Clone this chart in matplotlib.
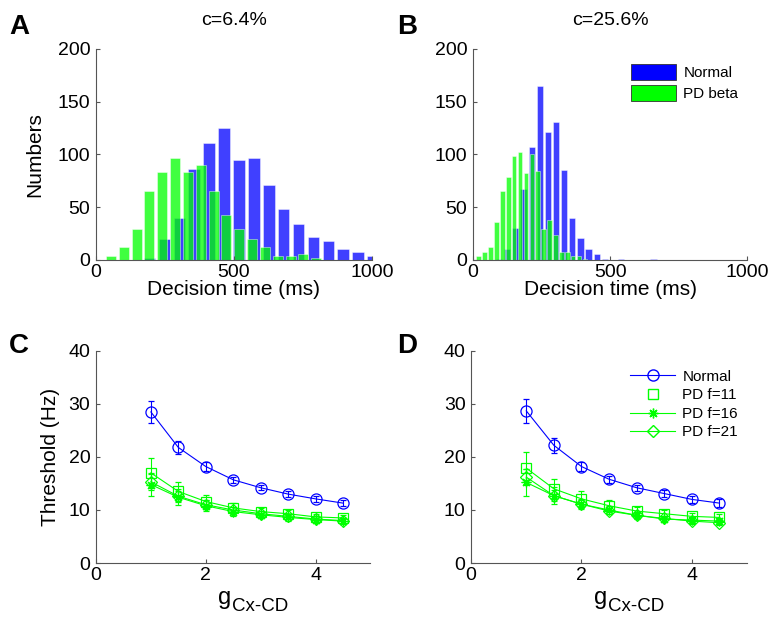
import matplotlib.pyplot as plt
from matplotlib.patches import Patch
from matplotlib.lines import Line2D
import numpy as np

plt.rcParams['font.family'] = ['Liberation Sans', 'DejaVu Sans']
plt.rcParams['font.size'] = 12

BLUE = '#0000ff'
GREEN = '#00ff00'
ASTERISK = (8, 2, 0)   # matlab-style '*' marker

# --- decision time histograms (bin centres in ms, counts) ---
a_normal_bins = [194, 248, 302, 356, 410, 464, 518, 572, 626, 680, 734, 788, 842, 896, 950, 1004]
a_normal_counts = [2, 20, 40, 86, 111, 125, 95, 97, 71, 48, 34, 22, 18, 10, 8, 4]
a_pd_bins = [54, 100.5, 147, 193.5, 240, 286.5, 333, 379.5, 426, 472.5, 519, 565.5, 612, 658.5, 705, 751.5, 798]
a_pd_counts = [4, 12, 29, 65, 83, 97, 83, 90, 65, 43, 29, 20, 12, 4, 4, 6, 2]

b_normal_bins = [95.4, 125, 154.6, 184.2, 213.8, 243.4, 273, 302.6, 332.2, 361.8, 391.4, 421,
                 450.6, 480.2, 509.8, 539.4, 569, 598.6, 628.2, 657.8]
b_normal_counts = [1, 10, 30, 67, 107, 165, 121, 131, 85, 40, 21, 10, 6, 1, 0, 1, 0, 0, 0, 1]
b_pd_bins = [21, 42.5, 64, 85.5, 107, 128.5, 150, 171.5, 193, 214.5, 236, 257.5, 279, 300.5,
             322, 343.5, 365, 386.5, 408]
b_pd_counts = [4, 8, 12, 36, 65, 79, 99, 102, 82, 100, 84, 29, 38, 24, 8, 8, 4, 4, 1]

# --- thresholds vs g_Cx-CD ---
g = [1, 1.5, 2, 2.5, 3, 3.5, 4, 4.5]

c_normal = [28.5, 21.8, 18.2, 15.7, 14.2, 13.0, 12.1, 11.3]
c_normal_err = [2.0, 1.3, 0.8, 0.6, 0.5, 0.5, 0.6, 0.6]
c_f11 = [17.0, 13.5, 11.6, 10.4, 9.7, 9.3, 8.7, 8.5]
c_f11_err = [2.8, 1.8, 1.2, 0.9, 0.7, 0.7, 0.6, 0.6]
c_f16 = [14.8, 12.4, 10.8, 9.7, 9.1, 8.6, 8.2, 7.9]
c_f16_err = [2.2, 1.5, 1.0, 0.8, 0.7, 0.6, 0.6, 0.6]
c_f21 = [15.3, 12.6, 11.0, 10.0, 9.3, 8.8, 8.3, 8.0]
c_f21_err = [1.5, 1.0, 0.8, 0.6, 0.5, 0.5, 0.5, 0.5]

d_normal = [28.7, 22.2, 18.2, 15.8, 14.2, 13.1, 12.0, 11.3]
d_normal_err = [2.2, 1.4, 0.8, 0.7, 0.6, 0.6, 0.7, 0.7]
d_f11 = [17.9, 14.0, 12.1, 10.8, 9.8, 9.3, 8.8, 8.6]
d_f11_err = [3.0, 1.9, 1.5, 1.0, 0.8, 0.7, 0.6, 0.6]
d_f16 = [15.2, 12.7, 11.1, 10.0, 9.0, 8.3, 8.1, 7.9]
d_f16_err = [2.5, 1.6, 1.0, 0.8, 0.7, 0.6, 0.6, 0.6]
d_f21 = [16.2, 12.7, 11.1, 9.8, 9.0, 8.4, 7.9, 7.6]
d_f21_err = [1.5, 1.0, 0.8, 0.6, 0.5, 0.5, 0.5, 0.5]


def style_axes(ax):
    for s in ['top', 'right']:
        ax.spines[s].set_visible(False)
    for s in ['left', 'bottom']:
        ax.spines[s].set_color('#555555')
        ax.spines[s].set_linewidth(0.8)
    ax.tick_params(direction='in', length=3, width=0.8, color='#555555', labelsize=14, pad=4)
    ax.tick_params(axis='x', pad=3)


def hist_panel(ax, nb, nc, pb, pc, title):
    wn = 0.78 * (nb[1] - nb[0])
    wp = 0.78 * (pb[1] - pb[0])
    ax.bar(nb, nc, width=wn, color=BLUE, alpha=0.75, edgecolor='white', linewidth=0.4)
    ax.bar(pb, pc, width=wp, color=GREEN, alpha=0.75, edgecolor='white', linewidth=0.4)
    ax.set_xlim(0, 1000)
    ax.set_ylim(0, 200)
    ax.set_xticks([0, 500, 1000])
    ax.set_yticks([0, 50, 100, 150, 200])
    ax.set_xlabel('Decision time (ms)', fontsize=15, labelpad=-1)
    ax.set_title(title, fontsize=14, pad=17)
    style_axes(ax)


def thr_panel(ax, n, ne, f11, f11e, f16, f16e, f21, f21e):
    kw = dict(linewidth=0.8, capsize=2, elinewidth=0.8, markersize=7,
              markerfacecolor='none', markeredgewidth=0.9)
    ax.errorbar(g, f11, yerr=f11e, color=GREEN, marker='s', **kw)
    ax.errorbar(g, f16, yerr=f16e, color=GREEN, marker=ASTERISK, **kw)
    ax.errorbar(g, f21, yerr=f21e, color=GREEN, marker='D', **dict(kw, markersize=6))
    ax.errorbar(g, n, yerr=ne, color=BLUE, marker='o', **dict(kw, markersize=8))
    ax.set_xlim(0, 5)
    ax.set_ylim(0, 40)
    ax.set_xticks([0, 2, 4])
    ax.set_yticks([0, 10, 20, 30, 40])
    # x label: g with a subscript nearly as large as the letter
    ax.text(0.492, -0.195, 'g', transform=ax.transAxes, ha='right', va='baseline', fontsize=17)
    ax.text(0.497, -0.228, 'Cx-CD', transform=ax.transAxes, ha='left', va='baseline', fontsize=13.5)
    style_axes(ax)


fig = plt.figure(figsize=(7.71, 6.28), dpi=100)
axA = fig.add_axes([0.1245, 0.586, 0.358, 0.336])
axB = fig.add_axes([0.6135, 0.586, 0.356, 0.336])
axC = fig.add_axes([0.1245, 0.1035, 0.356, 0.3376])
axD = fig.add_axes([0.611, 0.1035, 0.358, 0.3376])

hist_panel(axA, a_normal_bins, a_normal_counts, a_pd_bins, a_pd_counts, 'c=6.4%')
hist_panel(axB, b_normal_bins, b_normal_counts, b_pd_bins, b_pd_counts, 'c=25.6%')
axA.set_ylabel('Numbers', fontsize=15, labelpad=10)

handles = [Patch(facecolor=BLUE, edgecolor='#333333', linewidth=0.6, label='Normal'),
           Patch(facecolor=GREEN, edgecolor='#333333', linewidth=0.6, label='PD beta')]
axB.legend(handles=handles, loc='upper right', frameon=False, fontsize=11,
           handlelength=2.9, handleheight=1.2, handletextpad=0.5, borderaxespad=0.2,
           labelspacing=0.3, bbox_to_anchor=(1.0, 0.97))

thr_panel(axC, c_normal, c_normal_err, c_f11, c_f11_err, c_f16, c_f16_err, c_f21, c_f21_err)
thr_panel(axD, d_normal, d_normal_err, d_f11, d_f11_err, d_f16, d_f16_err, d_f21, d_f21_err)
axC.set_ylabel('Threshold (Hz)', fontsize=15, labelpad=6)

leg_lines = [
    Line2D([], [], color=BLUE, marker='o', mfc='none', markersize=8, linewidth=0.8, label='Normal'),
    Line2D([], [], color=GREEN, marker='s', mfc='none', markersize=7, linestyle='none', label='PD f=11'),
    Line2D([], [], color=GREEN, marker=ASTERISK, mfc='none', markersize=7, linewidth=0.8, label='PD f=16'),
    Line2D([], [], color=GREEN, marker='D', mfc='none', markersize=6, linewidth=0.8, label='PD f=21'),
]
axD.legend(handles=leg_lines, loc='upper right', frameon=False, fontsize=11,
           handlelength=2.9, handletextpad=0.5, labelspacing=0.3, borderaxespad=0.2,
           bbox_to_anchor=(1.0, 0.955))

for letter, x, y in [('A', 0.012, 0.978), ('B', 0.515, 0.978),
                     ('C', 0.012, 0.47), ('D', 0.515, 0.47)]:
    fig.text(x, y, letter, fontsize=20, fontweight='bold', va='top')

fig.savefig('out.png', dpi=100)
